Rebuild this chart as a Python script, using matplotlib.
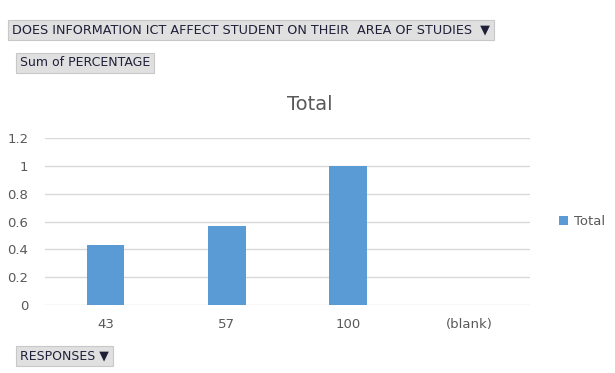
import matplotlib.pyplot as plt
import numpy as np

categories = ['43', '57', '100', '(blank)']
values = [0.43, 0.57, 1.0, np.nan]
yticks = [0, 0.2, 0.4, 0.6, 0.8, 1, 1.2]
ytick_labels = ['0', '0.2', '0.4', '0.6', '0.8', '1', '1.2']

bar_color = '#5b9bd5'
text_color = '#595959'

plt.rcParams['font.family'] = ['DejaVu Sans']

fig = plt.figure(figsize=(6.15, 3.73), dpi=100)
ax = fig.add_axes([0.073, 0.182, 0.789, 0.448])

x = np.arange(len(categories))
ax.bar(x, values, width=0.31, color=bar_color, label='Total', zorder=3)

ax.set_xlim(-0.5, len(categories) - 0.5)
ax.set_ylim(0, 1.2)
ax.set_yticks(yticks)
ax.set_yticklabels(ytick_labels)
ax.set_xticks(x)
ax.set_xticklabels(categories)
ax.tick_params(axis='both', length=0, colors=text_color, labelsize=9.5)
ax.tick_params(axis='y', pad=12)
ax.tick_params(axis='x', pad=9)
ax.grid(axis='y', color='#d9d9d9', linewidth=1, zorder=0)
for s in ax.spines.values():
    s.set_visible(False)

# title sits over the whole chart area, not just the plot
fig.text(310 / 615, 1 - 104 / 373, 'Total', color=text_color, fontsize=14,
         ha='center', va='center')

leg = ax.legend(loc='center left', bbox_to_anchor=(1.035, 0.5), frameon=False,
                fontsize=9.5, handlelength=0.7, handleheight=0.7, handletextpad=0.4)
for t in leg.get_texts():
    t.set_color(text_color)

btn = dict(boxstyle='square,pad=0.3', facecolor='#e0e0e0', edgecolor='#c8c8c8', linewidth=0.8)
fig.text(12 / 615, 1 - 30 / 373, 'DOES INFORMATION ICT AFFECT STUDENT ON THEIR  AREA OF STUDIES  \u25bc',
         fontsize=9.2, color='#1f1f3a', va='center', ha='left', bbox=btn)
fig.text(20 / 615, 1 - 63 / 373, 'Sum of PERCENTAGE',
         fontsize=9, color='#1f1f3a', va='center', ha='left', bbox=btn)
fig.text(20 / 615, 1 - 356 / 373, 'RESPONSES \u25bc',
         fontsize=9, color='#1f1f3a', va='center', ha='left', bbox=btn)

fig.savefig('out.png', dpi=100)
